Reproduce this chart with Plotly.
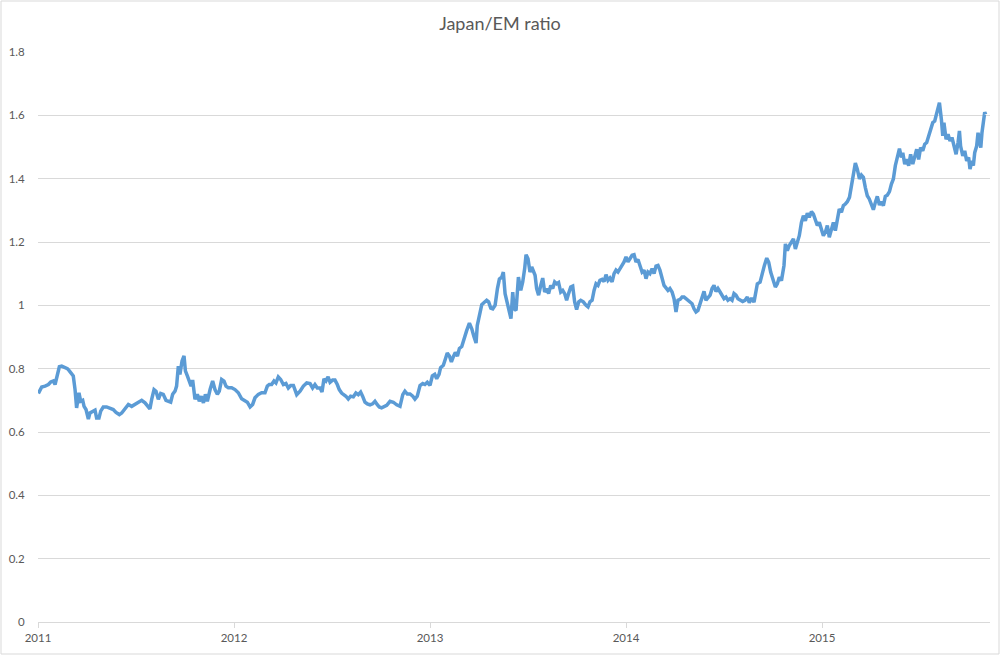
import pandas as pd
import plotly.graph_objects as go

# (decimal year, Japan/EM ratio)
ratio_2011 = [
    (2011.002, 0.722), (2011.019, 0.742), (2011.036, 0.745), (2011.053, 0.750), (2011.065, 0.758),
    (2011.078, 0.761), (2011.087, 0.750), (2011.095, 0.771), (2011.109, 0.806), (2011.121, 0.808),
    (2011.138, 0.803), (2011.150, 0.800), (2011.160, 0.793), (2011.172, 0.782), (2011.180, 0.777),
    (2011.189, 0.734), (2011.197, 0.676), (2011.209, 0.724), (2011.218, 0.697), (2011.228, 0.700),
    (2011.235, 0.681), (2011.245, 0.671), (2011.257, 0.641), (2011.265, 0.660), (2011.279, 0.666),
    (2011.291, 0.669), (2011.299, 0.644), (2011.311, 0.644), (2011.320, 0.666), (2011.333, 0.679),
    (2011.350, 0.679), (2011.367, 0.676), (2011.384, 0.671), (2011.398, 0.662), (2011.415, 0.655),
    (2011.427, 0.660), (2011.444, 0.676), (2011.461, 0.687), (2011.478, 0.681), (2011.495, 0.687),
    (2011.512, 0.694), (2011.529, 0.700), (2011.546, 0.692), (2011.558, 0.684), (2011.571, 0.673),
    (2011.580, 0.703), (2011.592, 0.734), (2011.602, 0.729), (2011.614, 0.703), (2011.626, 0.722),
    (2011.639, 0.719), (2011.653, 0.700), (2011.665, 0.697), (2011.677, 0.694), (2011.687, 0.719),
    (2011.699, 0.729), (2011.707, 0.745), (2011.716, 0.808), (2011.724, 0.782), (2011.735, 0.824),
    (2011.745, 0.840), (2011.752, 0.793), (2011.762, 0.777), (2011.772, 0.756), (2011.781, 0.745),
    (2011.789, 0.764), (2011.801, 0.703), (2011.813, 0.719), (2011.823, 0.697), (2011.833, 0.713),
    (2011.844, 0.692), (2011.854, 0.719), (2011.864, 0.697), (2011.878, 0.734), (2011.891, 0.761),
    (2011.903, 0.734), (2011.915, 0.719), (2011.925, 0.729), (2011.937, 0.766), (2011.949, 0.761),
    (2011.959, 0.745), (2011.971, 0.740), (2011.988, 0.740),
]

ratio_2012 = [
    (2012.005, 0.734), (2012.022, 0.724), (2012.039, 0.705), (2012.056, 0.697), (2012.068, 0.694),
    (2012.082, 0.679), (2012.095, 0.687), (2012.107, 0.708), (2012.124, 0.719), (2012.141, 0.724),
    (2012.158, 0.724), (2012.170, 0.745), (2012.180, 0.750), (2012.192, 0.750), (2012.204, 0.761),
    (2012.214, 0.755), (2012.226, 0.774), (2012.238, 0.766), (2012.252, 0.750), (2012.265, 0.753),
    (2012.277, 0.739), (2012.289, 0.747), (2012.303, 0.747), (2012.320, 0.718), (2012.337, 0.729),
    (2012.354, 0.745), (2012.371, 0.755), (2012.388, 0.753), (2012.401, 0.739), (2012.413, 0.750),
    (2012.425, 0.739), (2012.439, 0.739), (2012.449, 0.726), (2012.459, 0.768), (2012.469, 0.761),
    (2012.480, 0.774), (2012.490, 0.757), (2012.503, 0.764), (2012.515, 0.764), (2012.527, 0.750),
    (2012.537, 0.734), (2012.549, 0.723), (2012.561, 0.718), (2012.571, 0.713), (2012.583, 0.704),
    (2012.595, 0.713), (2012.609, 0.711), (2012.622, 0.723), (2012.634, 0.718), (2012.646, 0.726),
    (2012.656, 0.713), (2012.668, 0.694), (2012.680, 0.689), (2012.694, 0.686), (2012.707, 0.689),
    (2012.719, 0.697), (2012.731, 0.686), (2012.741, 0.679), (2012.753, 0.676), (2012.765, 0.681),
    (2012.779, 0.684), (2012.796, 0.697), (2012.813, 0.694), (2012.830, 0.686), (2012.847, 0.681),
    (2012.861, 0.718), (2012.872, 0.729), (2012.884, 0.720), (2012.898, 0.720), (2012.912, 0.713),
    (2012.923, 0.704), (2012.935, 0.713), (2012.949, 0.747), (2012.963, 0.753), (2012.974, 0.750),
    (2012.986, 0.757),
]

ratio_2013 = [
    (2013.000, 0.747), (2013.012, 0.777), (2013.024, 0.782), (2013.034, 0.768), (2013.046, 0.782),
    (2013.054, 0.803), (2013.068, 0.811), (2013.078, 0.830), (2013.088, 0.849), (2013.099, 0.840),
    (2013.109, 0.821), (2013.119, 0.838), (2013.129, 0.851), (2013.140, 0.840), (2013.150, 0.864),
    (2013.162, 0.870), (2013.173, 0.894), (2013.187, 0.920), (2013.201, 0.944), (2013.213, 0.926),
    (2013.224, 0.902), (2013.235, 0.881), (2013.241, 0.936), (2013.252, 0.973), (2013.264, 1.002),
    (2013.276, 1.009), (2013.289, 1.016), (2013.299, 1.011), (2013.310, 0.991), (2013.320, 0.989),
    (2013.332, 1.000), (2013.344, 1.053), (2013.354, 1.083), (2013.366, 1.089), (2013.374, 1.105),
    (2013.383, 1.037), (2013.395, 1.005), (2013.405, 0.989), (2013.413, 0.958), (2013.422, 1.042),
    (2013.429, 0.989), (2013.439, 0.984), (2013.451, 1.089), (2013.463, 1.047), (2013.473, 1.074),
    (2013.483, 1.116), (2013.490, 1.160), (2013.500, 1.147), (2013.510, 1.105), (2013.519, 1.121),
    (2013.527, 1.105), (2013.536, 1.095), (2013.544, 1.053), (2013.554, 1.032), (2013.565, 1.063),
    (2013.575, 1.086), (2013.585, 1.042), (2013.595, 1.053), (2013.605, 1.037), (2013.616, 1.063),
    (2013.626, 1.053), (2013.636, 1.074), (2013.646, 1.068), (2013.656, 1.072), (2013.667, 1.042),
    (2013.677, 1.047), (2013.687, 1.037), (2013.697, 1.016), (2013.707, 1.037), (2013.718, 1.058),
    (2013.728, 1.061), (2013.738, 1.011), (2013.748, 0.987), (2013.759, 1.011), (2013.769, 1.016),
    (2013.782, 1.011), (2013.796, 1.000), (2013.806, 0.995), (2013.816, 1.011), (2013.827, 1.016),
    (2013.837, 1.047), (2013.847, 1.068), (2013.857, 1.063), (2013.867, 1.079), (2013.878, 1.082),
    (2013.888, 1.075), (2013.898, 1.097), (2013.908, 1.079), (2013.918, 1.086), (2013.929, 1.074),
    (2013.939, 1.100), (2013.949, 1.111), (2013.959, 1.105), (2013.969, 1.114), (2013.980, 1.126),
    (2013.990, 1.137),
]

ratio_2014 = [
    (2014.000, 1.153), (2014.010, 1.137), (2014.020, 1.147), (2014.031, 1.158), (2014.041, 1.160),
    (2014.051, 1.137), (2014.061, 1.145), (2014.071, 1.126), (2014.082, 1.105), (2014.092, 1.111),
    (2014.102, 1.084), (2014.112, 1.105), (2014.122, 1.100), (2014.133, 1.116), (2014.143, 1.100),
    (2014.153, 1.124), (2014.163, 1.126), (2014.173, 1.111), (2014.184, 1.079), (2014.194, 1.063),
    (2014.204, 1.055), (2014.214, 1.047), (2014.224, 1.053), (2014.235, 1.042), (2014.245, 1.021),
    (2014.255, 0.979), (2014.265, 1.016), (2014.276, 1.019), (2014.286, 1.026), (2014.296, 1.026),
    (2014.306, 1.021), (2014.316, 1.016), (2014.327, 1.011), (2014.337, 1.005), (2014.347, 0.989),
    (2014.357, 0.979), (2014.367, 0.984), (2014.378, 1.005), (2014.388, 1.032), (2014.398, 1.044),
    (2014.408, 1.016), (2014.418, 1.026), (2014.429, 1.032), (2014.439, 1.053), (2014.449, 1.063),
    (2014.459, 1.044), (2014.469, 1.053), (2014.480, 1.042), (2014.490, 1.032), (2014.500, 1.021),
    (2014.510, 1.026), (2014.520, 1.016), (2014.531, 1.021), (2014.541, 1.016), (2014.551, 1.037),
    (2014.561, 1.032), (2014.571, 1.021), (2014.582, 1.016), (2014.595, 1.012), (2014.607, 1.016),
    (2014.619, 1.026), (2014.629, 1.008), (2014.641, 1.023), (2014.653, 1.010), (2014.663, 1.042),
    (2014.670, 1.068), (2014.684, 1.073), (2014.694, 1.100), (2014.706, 1.126), (2014.718, 1.149),
    (2014.728, 1.136), (2014.738, 1.105), (2014.752, 1.078), (2014.762, 1.058), (2014.772, 1.068),
    (2014.782, 1.089), (2014.793, 1.078), (2014.799, 1.100), (2014.806, 1.126), (2014.813, 1.194),
    (2014.823, 1.173), (2014.833, 1.189), (2014.844, 1.199), (2014.854, 1.210), (2014.864, 1.178),
    (2014.874, 1.204), (2014.884, 1.220), (2014.895, 1.262), (2014.905, 1.283), (2014.915, 1.267),
    (2014.925, 1.291), (2014.935, 1.278), (2014.946, 1.296), (2014.956, 1.288), (2014.966, 1.273),
    (2014.976, 1.252), (2014.986, 1.262), (2014.997, 1.236),
]

ratio_2015 = [
    (2015.007, 1.220), (2015.017, 1.231), (2015.027, 1.252), (2015.037, 1.215), (2015.048, 1.241),
    (2015.058, 1.262), (2015.068, 1.236), (2015.078, 1.273), (2015.088, 1.304), (2015.099, 1.294),
    (2015.109, 1.315), (2015.119, 1.320), (2015.129, 1.327), (2015.140, 1.341), (2015.150, 1.383),
    (2015.160, 1.414), (2015.170, 1.449), (2015.180, 1.430), (2015.191, 1.399), (2015.201, 1.411),
    (2015.211, 1.404), (2015.221, 1.372), (2015.231, 1.346), (2015.241, 1.336), (2015.252, 1.320),
    (2015.262, 1.302), (2015.272, 1.325), (2015.282, 1.344), (2015.293, 1.317), (2015.303, 1.327),
    (2015.313, 1.315), (2015.323, 1.344), (2015.333, 1.348), (2015.344, 1.359), (2015.354, 1.383),
    (2015.364, 1.399), (2015.374, 1.441), (2015.384, 1.472), (2015.395, 1.495), (2015.405, 1.467),
    (2015.412, 1.482), (2015.422, 1.446), (2015.432, 1.461), (2015.442, 1.441), (2015.452, 1.477),
    (2015.463, 1.446), (2015.473, 1.467), (2015.483, 1.493), (2015.493, 1.461), (2015.503, 1.498),
    (2015.514, 1.488), (2015.524, 1.509), (2015.534, 1.514), (2015.544, 1.535), (2015.554, 1.551),
    (2015.565, 1.577), (2015.575, 1.582), (2015.585, 1.603), (2015.599, 1.640), (2015.609, 1.587),
    (2015.616, 1.535), (2015.622, 1.577), (2015.633, 1.524), (2015.643, 1.540), (2015.653, 1.519),
    (2015.663, 1.530), (2015.673, 1.509), (2015.684, 1.477), (2015.694, 1.514), (2015.701, 1.551),
    (2015.707, 1.503), (2015.718, 1.472), (2015.728, 1.488), (2015.738, 1.456), (2015.748, 1.467),
    (2015.755, 1.430), (2015.765, 1.456), (2015.772, 1.441), (2015.779, 1.482), (2015.789, 1.503),
    (2015.796, 1.545), (2015.803, 1.519), (2015.810, 1.498), (2015.816, 1.545), (2015.823, 1.582),
    (2015.830, 1.610), (2015.835, 1.603),
]

x_tick_years = [2011, 2012, 2013, 2014, 2015]
y_tick_values = [0, 0.2, 0.4, 0.6, 0.8, 1.0, 1.2, 1.4, 1.6, 1.8]
y_tick_labels = ["0", "0.2", "0.4", "0.6", "0.8", "1", "1.2", "1.4", "1.6", "1.8"]

points = ratio_2011 + ratio_2012 + ratio_2013 + ratio_2014 + ratio_2015
base = pd.Timestamp("2011-01-01")


def to_date(yr):
    return base + pd.Timedelta(days=(yr - 2011) * 365.25)


dates = [to_date(p[0]) for p in points]
values = [p[1] for p in points]

GREY = "#595959"
GRID = "#D9D9D9"
FONT = "Lato, 'Open Sans', sans-serif"

fig = go.Figure(
    go.Scatter(
        x=dates,
        y=values,
        mode="lines",
        line=dict(color="#5B9BD5", width=3.5),
        showlegend=False,
        hoverinfo="x+y",
    )
)

fig.update_layout(
    width=1000,
    height=655,
    margin=dict(l=38, r=10, t=52, b=33),
    paper_bgcolor="white",
    plot_bgcolor="white",
    font=dict(family=FONT, color=GREY, size=11.5),
    title=dict(
        text="Japan/EM ratio",
        x=0.5,
        xref="container",
        xanchor="center",
        y=1 - 24 / 655,
        yref="container",
        yanchor="middle",
        font=dict(family=FONT, size=18, color=GREY),
    ),
    xaxis=dict(
        type="date",
        range=[to_date(2011.0), to_date(2015.857)],
        tickvals=[to_date(y) for y in x_tick_years],
        ticktext=[str(y) for y in x_tick_years],
        showgrid=False,
        zeroline=False,
        showline=True,
        linecolor=GRID,
        linewidth=1,
        ticks="outside",
        ticklen=5,
        tickcolor=GRID,
        tickfont=dict(family=FONT, size=11.5, color=GREY),
        fixedrange=True,
    ),
    yaxis=dict(
        range=[0, 1.8],
        tickvals=y_tick_values,
        ticktext=y_tick_labels,
        showgrid=True,
        gridcolor=GRID,
        gridwidth=1,
        zeroline=False,
        showline=False,
        ticks="outside",
        ticklen=10,
        tickcolor="rgba(0,0,0,0)",
        tickfont=dict(family=FONT, size=11.5, color=GREY),
        fixedrange=True,
    ),
    shapes=[
        dict(
            type="rect",
            xref="paper",
            yref="paper",
            x0=-37 / 952,
            x1=961 / 952,
            y0=-32 / 570,
            y1=621 / 570,
            line=dict(color=GRID, width=1),
            fillcolor="rgba(0,0,0,0)",
            layer="below",
        )
    ],
)

fig.write_html("out.html")
